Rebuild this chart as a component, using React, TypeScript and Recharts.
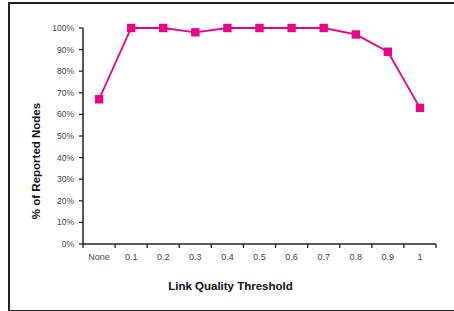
import React from "react";
import { LineChart, Line, XAxis, YAxis } from "recharts";

const categories = ["None", "0.1", "0.2", "0.3", "0.4", "0.5", "0.6", "0.7", "0.8", "0.9", "1"];
const reportedPct = [67, 100, 100, 98, 100, 100, 100, 100, 97, 89, 63];
const yTicks = [0, 10, 20, 30, 40, 50, 60, 70, 80, 90, 100];

const data = categories.map((c, i) => ({ pos: i + 0.5, name: c, value: reportedPct[i] }));
const xTicks: number[] = [];
for (let i = 0; i <= categories.length; i++) {
  xTicks.push(i);
  if (i < categories.length) xTicks.push(i + 0.5);
}

const FONT = "'Liberation Sans', Arial, sans-serif";
const PINK = "#EC008C";

const XTick = (props: any) => {
  const { x, y, payload } = props;
  const v = payload.value as number;
  if (Number.isInteger(v)) {
    return <line x1={x} y1={y} x2={x} y2={y + 4} stroke="#222" strokeWidth={1.3} />;
  }
  const idx = Math.floor(v);
  return (
    <text x={x} y={y + 16} textAnchor="middle" fontSize={9} fill="#444" fontFamily={FONT}>
      {categories[idx]}
    </text>
  );
};

const Marker = (props: any) => {
  const { cx, cy } = props;
  return <rect x={cx - 4.2} y={cy - 4.2} width={8.4} height={8.4} fill={PINK} />;
};

export default function App() {
  return (
    <div style={{ position: "absolute", left: 0, top: 0, width: 454, height: 311, background: "#fff" }}>
      <div
        style={{
          position: "absolute",
          left: 8,
          top: 2,
          width: 470,
          height: 306,
          border: "2px solid #222",
        }}
      />
      <div style={{ position: "absolute", left: 0, top: 0 }}>
        <LineChart
          width={454}
          height={311}
          data={data}
          margin={{ top: 28, right: 18, bottom: 27, left: 10 }}
        >
          <XAxis
            dataKey="pos"
            type="number"
            domain={[0, categories.length]}
            ticks={xTicks}
            interval={0}
            tickLine={false}
            tickSize={0}
            tickMargin={0}
            tick={<XTick />}
            axisLine={{ stroke: "#222", strokeWidth: 1.5 }}
            height={40}
            label={{
              content: () => (
                <text x={230.5} y={290} textAnchor="middle" fontSize={11.5} fontWeight="bold" fill="#111" fontFamily={FONT}>
                  Link Quality Threshold
                </text>
              ),
            }}
          />
          <YAxis
            type="number"
            domain={[0, 100]}
            ticks={yTicks}
            interval={0}
            width={73}
            tickFormatter={(v: number) => `${v}%`}
            tick={{ fontSize: 8.5, fill: "#444", fontFamily: FONT }}
            tickSize={4}
            tickMargin={5}
            tickLine={{ stroke: "#222", strokeWidth: 1.3 }}
            axisLine={{ stroke: "#222", strokeWidth: 1.5 }}
            label={{
              content: () => (
                <text
                  x={40}
                  y={161}
                  transform="rotate(-90, 40, 161)"
                  textAnchor="middle"
                  fontSize={11.5}
                  fontWeight="bold"
                  fill="#111"
                  fontFamily={FONT}
                >
                  % of Reported Nodes
                </text>
              ),
            }}
          />
          <Line
            type="linear"
            dataKey="value"
            stroke={PINK}
            strokeWidth={1.8}
            dot={<Marker />}
            activeDot={false}
            isAnimationActive={false}
          />
        </LineChart>
      </div>
    </div>
  );
}
